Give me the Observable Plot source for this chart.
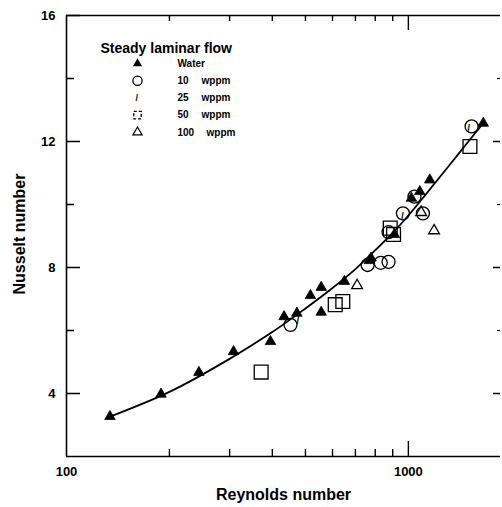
<!DOCTYPE html>
<html><head><meta charset="utf-8">
<script src="https://cdn.jsdelivr.net/npm/d3@7"></script>
<script src="https://cdn.jsdelivr.net/npm/@observablehq/plot@0.6"></script>
<style>
html,body{margin:0;padding:0;background:#fff;}
#chart svg{font-family:"Liberation Sans",Arial,Helvetica,sans-serif;font-weight:bold;background:#fff;}
</style></head><body><div id="chart"></div>
<script>
// ---- data ----
const waterRe = [134, 189, 244, 308, 395, 433, 472, 517, 556, 556, 650, 769, 778, 910, 1021, 1080, 1155, 1656];
const waterNu = [3.27, 3.98, 4.67, 5.33, 5.65, 6.44, 6.55, 7.11, 7.37, 6.58, 7.56, 8.22, 8.30, 9.05, 10.2, 10.41, 10.78, 12.58];
const w10Re = [452, 760, 830, 875, 875, 964, 1042, 1103, 1531];
const w10Nu = [6.18, 8.08, 8.15, 8.18, 9.12, 9.72, 10.25, 9.72, 12.48];
const w25Re = [475, 960, 1500];
const w25Nu = [6.3, 9.6, 12.4];
const w50Re = [371, 611, 643, 885, 905, 1514];
const w50Nu = [4.68, 6.82, 6.92, 9.25, 9.05, 11.84];
const w100Re = [708, 1090, 1189];
const w100Nu = [7.43, 9.75, 9.17];
const curveRe = [133, 200, 300, 400, 500, 600, 700, 800, 900, 1000, 1200, 1400, 1660];
const curveNu = [3.25, 4.05, 5.1, 5.95, 6.7, 7.35, 7.95, 8.55, 9.1, 9.65, 10.7, 11.6, 12.6];
const yMajorTicks = [4, 8, 12, 16];
const yMinorTicks = [6, 10, 14];
const xMinorTicks = [200, 300, 400, 500, 600, 700, 800, 900];
const xMajorTicks = [1000];
const xTickLabels = [100, 1000];
const seriesNames = ["Water", "10 wppm", "25 wppm", "50 wppm", "100 wppm"];
const legendTitle = "Steady laminar flow";
const xLabel = "Reynolds number";
const yLabel = "Nusselt number";

// ---- layout ----
const W = 502, H = 507, mL = 66, mR = 2, mT = 15, mB = 51;
const pw = W - mL - mR, ph = H - mT - mB;
const pts = (re, nu) => re.map((r, i) => ({Re: r, Nu: nu[i]}));
const K = "black";
const rowDy = i => 48 + i * 17.2;
const symX = 71, txtX = 111, unitX = 135;

const marks = [
  // frame (left, bottom, top)
  Plot.ruleX([100], {stroke: K, strokeWidth: 1.6}),
  Plot.ruleY([2, 16], {stroke: K, strokeWidth: 1.6}),
  // left ticks (inward)
  Plot.tickY(yMajorTicks, {y: d => d, insetRight: pw - 14, stroke: K, strokeWidth: 1.5}),
  Plot.tickY(yMinorTicks, {y: d => d, insetRight: pw - 8, stroke: K, strokeWidth: 1.5}),
  // right ticks (inward)
  Plot.tickY(yMajorTicks.filter(d => d < 16), {y: d => d, insetLeft: pw - 7, stroke: K, strokeWidth: 1.5}),
  Plot.tickY(yMinorTicks, {y: d => d, insetLeft: pw - 3, stroke: K, strokeWidth: 1.2}),
  // bottom ticks (inward)
  Plot.tickX(xMinorTicks, {x: d => d, insetTop: ph - 7, stroke: K, strokeWidth: 1.4}),
  Plot.tickX(xMajorTicks, {x: d => d, insetTop: ph - 15, stroke: K, strokeWidth: 1.4}),
  // top ticks (inward)
  Plot.tickX(xMinorTicks, {x: d => d, insetBottom: ph - 6, stroke: K, strokeWidth: 1.4}),
  Plot.tickX(xMajorTicks, {x: d => d, insetBottom: ph - 15, stroke: K, strokeWidth: 1.4}),
  // tick labels
  Plot.axisY({ticks: yMajorTicks, tickSize: 0, tickPadding: 11, fontSize: 13, tickFormat: d => String(d), label: null}),
  Plot.axisX({ticks: xTickLabels, tickSize: 0, tickPadding: 10, fontSize: 13, tickFormat: d => String(d), label: null}),
  // axis titles
  Plot.text([yLabel], {frameAnchor: "left", dx: -47, dy: -2, rotate: -90, text: d => d, fontSize: 16, textAnchor: "middle", lineAnchor: "middle", fill: K}),
  Plot.text([xLabel], {frameAnchor: "bottom", dy: 38, text: d => d, fontSize: 16, textAnchor: "middle", lineAnchor: "middle", fill: K}),
  // fitted curve
  Plot.line(pts(curveRe, curveNu), {x: "Re", y: "Nu", stroke: K, strokeWidth: 1.8, curve: "catmull-rom"}),
  // data
  Plot.dot(pts(w10Re, w10Nu), {x: "Re", y: "Nu", r: 6.5, stroke: K, strokeWidth: 1.3, fill: "none"}),
  Plot.dot(pts(w50Re, w50Nu), {x: "Re", y: "Nu", symbol: "square", r: 7.8, stroke: K, strokeWidth: 1.3, fill: "none"}),
  Plot.dot(pts(w100Re, w100Nu), {x: "Re", y: "Nu", symbol: "triangle", r: 4, stroke: K, strokeWidth: 1.3, fill: "none"}),
  Plot.text(pts(w25Re, w25Nu), {x: "Re", y: "Nu", text: () => "/", fontSize: 10, fill: K}),
  Plot.dot(pts(waterRe, waterNu), {x: "Re", y: "Nu", symbol: "triangle", r: 3.9, fill: K, stroke: K, strokeWidth: 0.8}),
  // legend
  Plot.text([legendTitle], {frameAnchor: "top-left", dx: 34, dy: 33, text: d => d, fontSize: 14, lineAnchor: "middle", fill: K, style: "letter-spacing:0.4px"}),
  Plot.dot([seriesNames[0]], {frameAnchor: "top-left", dx: symX, dy: rowDy(0), symbol: "triangle", r: 3.4, fill: K}),
  Plot.dot([seriesNames[1]], {frameAnchor: "top-left", dx: symX, dy: rowDy(1), r: 4.6, stroke: K, strokeWidth: 1.3, fill: "none"}),
  Plot.text([seriesNames[2]], {frameAnchor: "top-left", dx: symX - 2, dy: rowDy(2), text: () => "/", fontSize: 9, lineAnchor: "middle", fill: K}),
  Plot.dot([seriesNames[3]], {frameAnchor: "top-left", dx: symX, dy: rowDy(3), symbol: "square", r: 4.2, stroke: K, strokeWidth: 1.3, fill: "none", strokeDasharray: "3,2"}),
  Plot.dot([seriesNames[4]], {frameAnchor: "top-left", dx: symX, dy: rowDy(4), symbol: "triangle", r: 3.4, stroke: K, strokeWidth: 1.2, fill: "none"}),
  ...seriesNames.map((name, i) => Plot.text([name], {
    frameAnchor: "top-left", dx: txtX, dy: rowDy(i), lineAnchor: "middle", fontSize: 10, fill: K,
    text: d => (d.endsWith(" wppm") ? d.replace(" wppm", "") : d), style: "letter-spacing:1px"
  })),
  ...seriesNames.filter(n => n.endsWith(" wppm")).map((name, j) => Plot.text([name], {
    frameAnchor: "top-left", dx: unitX + (name.startsWith("100") ? 5 : 0), dy: rowDy(j + 1), lineAnchor: "middle", fontSize: 10, fill: K,
    text: () => "wppm", style: "letter-spacing:1px"
  }))
];

const chart = Plot.plot({
  width: W, height: H,
  marginLeft: mL, marginRight: mR, marginTop: mT, marginBottom: mB,
  x: {type: "log", domain: [100, 1860]},
  y: {type: "linear", domain: [2, 16]},
  style: {fontFamily: "'Liberation Sans', Arial, sans-serif", fontWeight: "bold", color: "black", background: "white"},
  marks
});
document.getElementById("chart").appendChild(chart);
</script>
</body></html>
